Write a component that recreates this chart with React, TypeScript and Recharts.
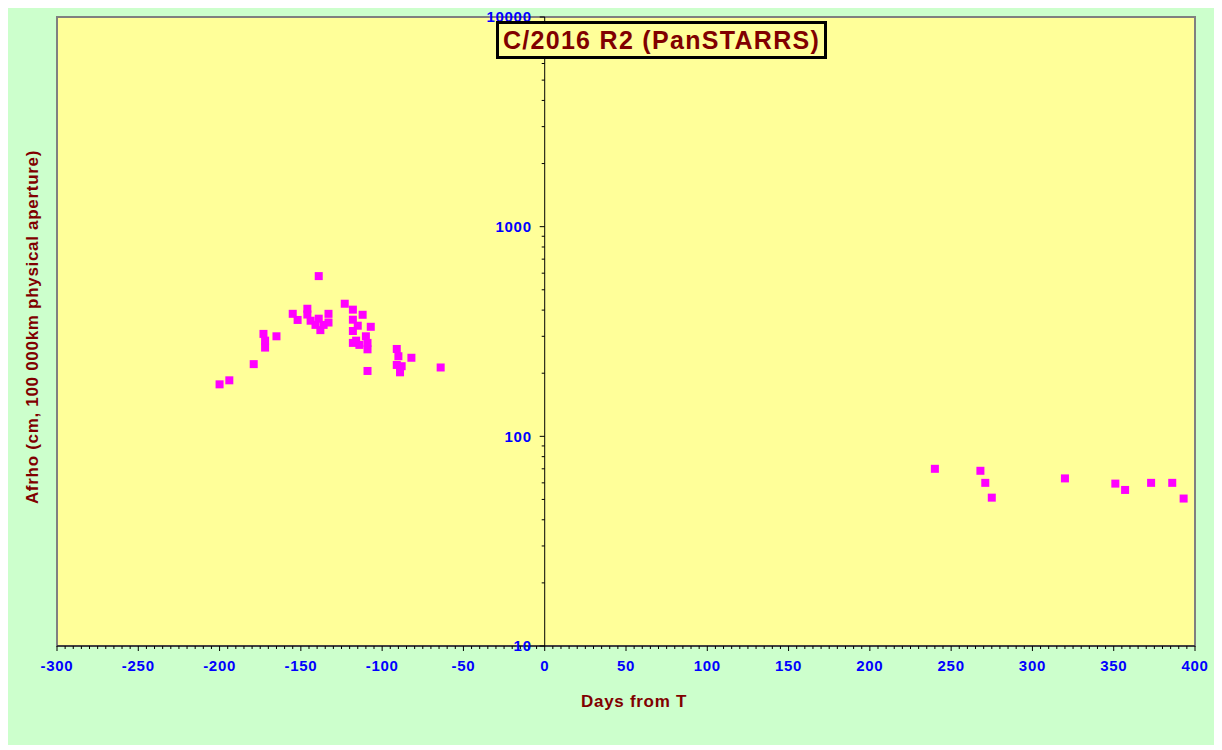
import { ScatterChart, Scatter, XAxis, YAxis, ReferenceArea, ReferenceLine } from 'recharts'

// days from perihelion and Afrho (cm) — before and after T
const preDays = [
  -200, -194, -179, -173, -172, -172, -165, -155, -152, -146, -146, -144, -139, -139, -141, -138,
  -133, -133, -136, -123, -118, -112, -118, -115, -107, -118, -110, -118, -116, -114, -109, -109,
  -109, -91, -90, -82, -91, -88, -89, -64,
]
const preAfrho = [
  177, 185, 221, 308, 286, 265, 300, 384, 359, 406, 381, 356, 364, 581, 340, 321,
  384, 349, 340, 429, 402, 380, 360, 337, 333, 318, 300, 279, 286, 273, 279, 260,
  205, 261, 241, 237, 219, 216, 202, 213,
]
const postDays = [240, 268, 271, 275, 320, 351, 357, 373, 386, 393]
const postAfrho = [70, 68.5, 60, 51, 63, 59.5, 55.5, 60, 60, 50.5]

const xMinor = Array.from({ length: 141 }, (_, i) => -300 + i * 5)
const yTicks = [10, 100, 1000].flatMap((d) => [1, 2, 3, 4, 5, 6, 7, 8, 9].map((m) => m * d)).concat([10000])

const W = 1207
const H = 737
const Y_W = 1
const MARGIN = { top: 9, right: 20, left: 49 - Y_W, bottom: 69 }
const X_MIN = -300
const X_MAX = 400
const PLOT_L = MARGIN.left + Y_W
const ZERO_X = PLOT_L + ((W - PLOT_L - MARGIN.right) * (0 - X_MIN)) / (X_MAX - X_MIN)

const FONT = 'Arial, "Liberation Sans", sans-serif'
const DARK_RED = '#800000'
const BLUE = '#0000FF'

const preData = preDays.map((d, i) => ({ day: d, afrho: preAfrho[i] }))
const postData = postDays.map((d, i) => ({ day: d, afrho: postAfrho[i] }))

function XTick({ x, y, payload }: any) {
  const v = payload.value
  const major = v % 50 === 0
  const axisY = y - 8
  return (
    <g>
      <line x1={x} x2={x} y1={axisY} y2={axisY + (major ? 5 : 3)} stroke="#000" />
      {major && (
        <text x={x} y={axisY + 25} textAnchor="middle" fill={BLUE} fontSize={15} fontWeight="bold" fontFamily={FONT} letterSpacing={0.7}>
          {v}
        </text>
      )}
    </g>
  )
}

function YTick({ y, payload }: any) {
  const v = payload.value
  const major = [10, 100, 1000, 10000].includes(v)
  return (
    <g>
      <line x1={ZERO_X - (major ? 5 : 3)} x2={ZERO_X} y1={y} y2={y} stroke="#000" />
      {major && (
        <text x={ZERO_X - 13} y={y} dy="0.35em" textAnchor="end" fill={BLUE} fontSize={15} fontWeight="bold" fontFamily={FONT} letterSpacing={0.7}>
          {v}
        </text>
      )}
    </g>
  )
}

function Square({ cx, cy }: any) {
  return <rect x={cx - 4} y={cy - 4} width={8} height={8} fill="#FF00FF" />
}

export default function App() {
  return (
    <div style={{ position: 'relative', width: W, height: H, background: '#CCFFCC', fontFamily: FONT }}>
      <ScatterChart width={W} height={H} margin={MARGIN}>
        <ReferenceArea x1={X_MIN} x2={X_MAX} y1={10} y2={10000} fill="#FFFF99" fillOpacity={1} stroke="#808080" strokeWidth={2} />
        <XAxis
          type="number"
          dataKey="day"
          domain={[X_MIN, X_MAX]}
          ticks={xMinor}
          interval={0}
          height={30}
          tickLine={false}
          tick={<XTick />}
          axisLine={{ stroke: '#000' }}
          allowDataOverflow
        />
        <YAxis
          type="number"
          dataKey="afrho"
          scale="log"
          domain={[10, 10000]}
          ticks={yTicks}
          interval={0}
          width={Y_W}
          axisLine={false}
          tickLine={false}
          tick={<YTick />}
          allowDataOverflow
        />
        <ReferenceLine x={0} stroke="#000" strokeWidth={1} />
        <Scatter data={preData} shape={<Square />} isAnimationActive={false} />
        <Scatter data={postData} shape={<Square />} isAnimationActive={false} />
      </ScatterChart>
      <div
        style={{
          position: 'absolute',
          left: 488,
          top: 13,
          width: 325,
          height: 32,
          border: '3px solid #000',
          background: '#FFFF99',
          color: DARK_RED,
          fontWeight: 'bold',
          fontSize: 25,
          letterSpacing: 1.3,
          lineHeight: '32px',
          textAlign: 'center',
          whiteSpace: 'nowrap',
        }}
      >
        C/2016 R2 (PanSTARRS)
      </div>
      <div style={{ position: 'absolute', left: 25, top: 319, width: 0, height: 0 }}>
        <div
          style={{
            position: 'absolute',
            transform: 'translate(-50%, -50%) rotate(-90deg)',
            whiteSpace: 'nowrap',
            color: DARK_RED,
            fontWeight: 'bold',
            fontSize: 17,
            letterSpacing: 0.7,
          }}
        >
          Afrho (cm, 100 000km physical aperture)
        </div>
      </div>
      <div
        style={{
          position: 'absolute',
          left: 626,
          top: 694,
          transform: 'translate(-50%, -50%)',
          whiteSpace: 'nowrap',
          color: DARK_RED,
          fontWeight: 'bold',
          fontSize: 17,
          letterSpacing: 0.7,
        }}
      >
        Days from T
      </div>
    </div>
  )
}
